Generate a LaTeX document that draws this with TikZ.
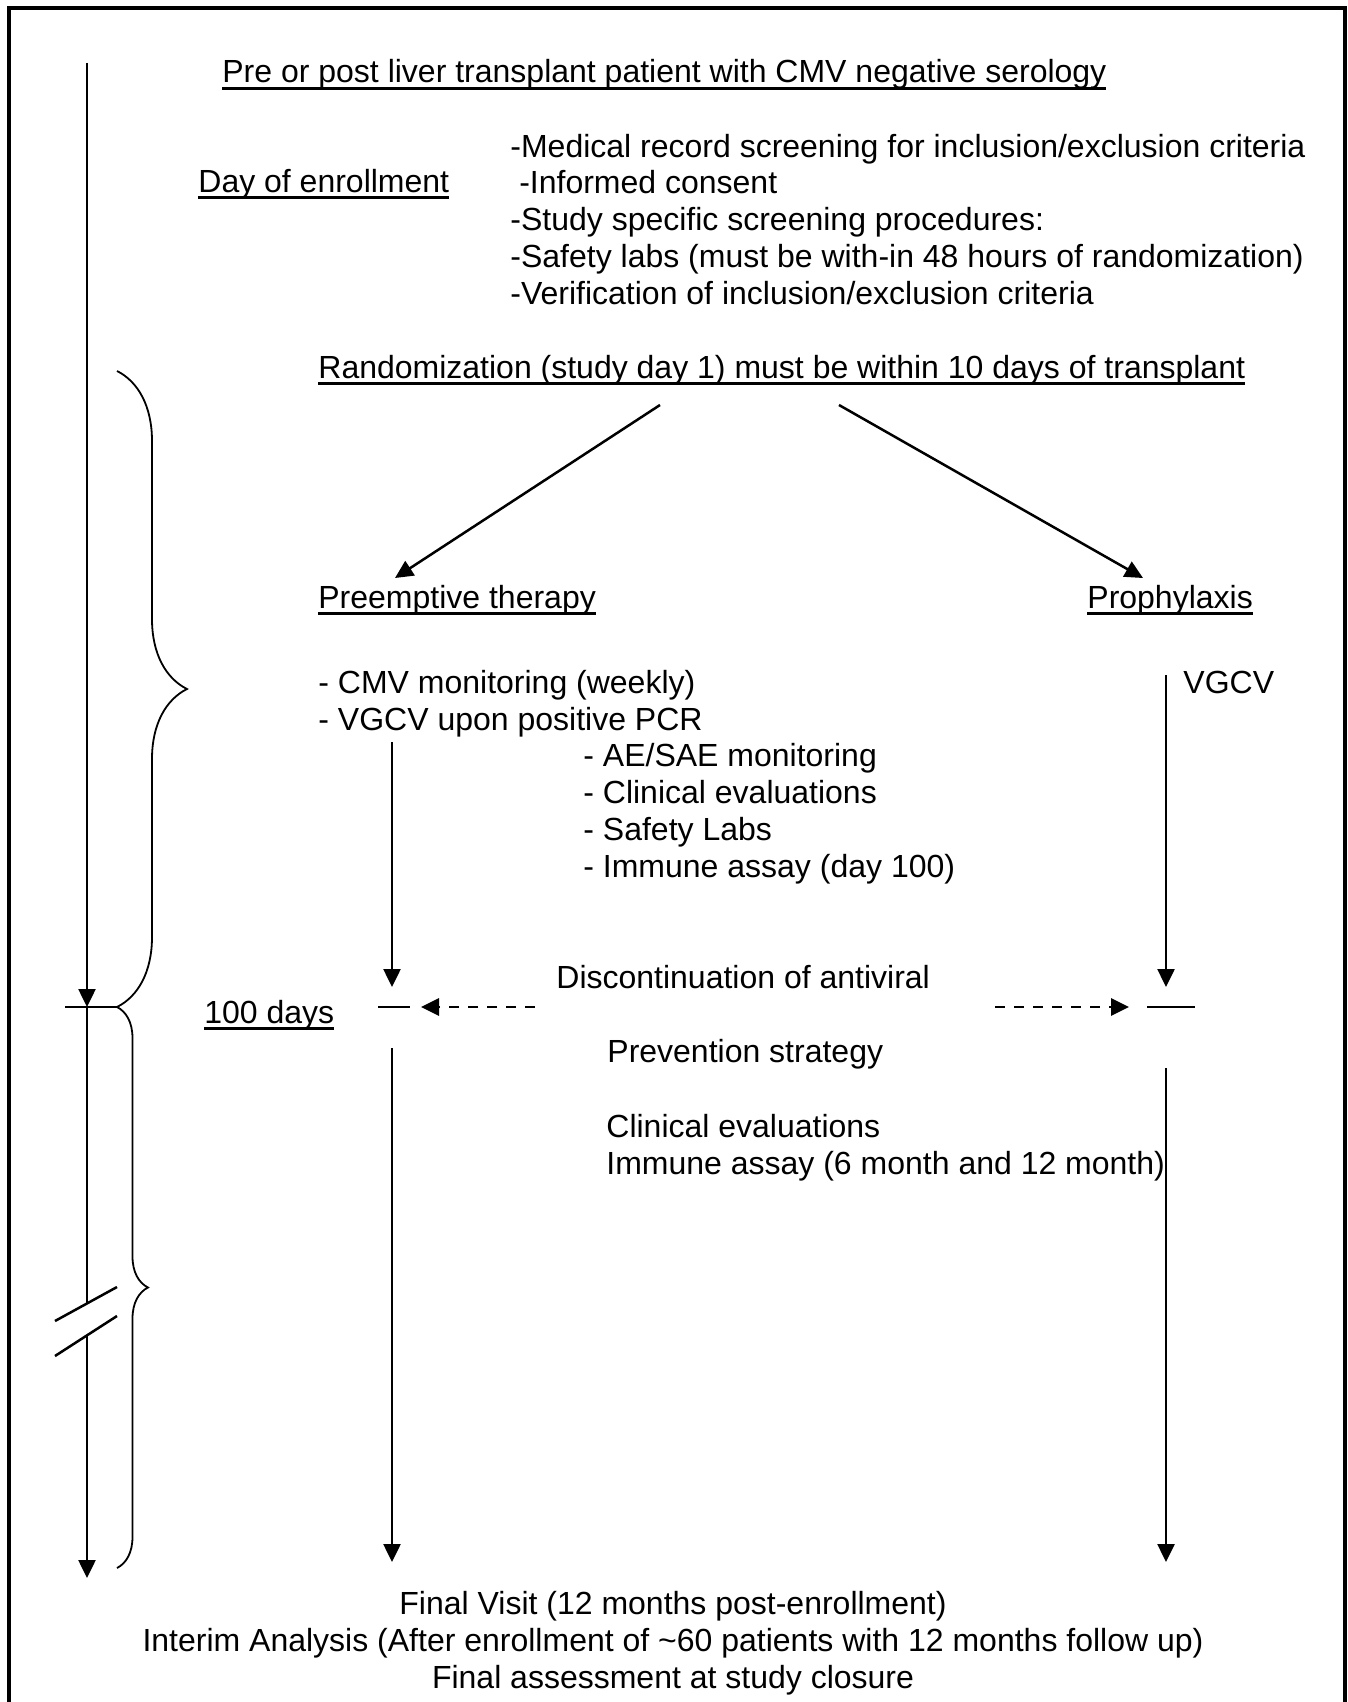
\documentclass[tikz,border=0pt]{standalone}
\usepackage{fontspec}
\setmainfont{Liberation Sans}
\usepackage{tikz}
\usetikzlibrary{arrows.meta, positioning, calc, decorations.pathreplacing}

\newcommand{\undertext}[1]{\setbox0\hbox{#1}\rlap{\vrule height -0.12em depth 0.21em width \wd0}\box0}

\tikzset{
  txt/.style={inner sep=0pt, anchor=base west, align=left,
    font=\fontsize{16pt}{18.35pt}\selectfont},
  ctxt/.style={inner sep=0pt, anchor=base, align=center,
    font=\fontsize{16pt}{18.35pt}\selectfont},
  arrow/.style={-{Triangle[length=9pt, width=8.5pt]}, line width=1.25pt, color=black},
  dasharrow/.style={arrow, line width=1.4pt, dash pattern=on 5pt off 4.5pt},
  line/.style={line width=1.25pt, color=black},
  bracel/.style={line width=0.9pt, decorate},
  frame/.style={line width=1.6pt, color=black}
}

\begin{document}
\begin{tikzpicture}[x=0.5pt, y=-0.5pt]
  \useasboundingbox (0,0) rectangle (1348,1702);
  \draw[frame] (9,1712) |- (1345,8) -- (1345,1712);

  % Nodes (multi-line nodes sit on the baseline of their last line)
  \node[txt] (title) at (222,83) {\undertext{Pre or post liver transplant patient with CMV negative serology}};
  \node[txt] (enroll) at (198,192) {\undertext{Day of enrollment}};
  \node[txt] (screen) at (510,304) {-Medical record screening for inclusion/exclusion criteria\\\ -Informed consent\\-Study specific screening procedures:\\-Safety labs (must be with-in 48 hours of randomization)\\-Verification of inclusion/exclusion criteria};
  \node[txt] (rand) at (318,378) {\undertext{Randomization (study day 1) must be within 10 days of transplant}};
  \node[txt] (pre) at (318,608) {\undertext{Preemptive therapy}};
  \node[txt] (pro) at (1087,608) {\undertext{Prophylaxis}};
  \node[txt] (preList) at (318,730) {- CMV monitoring (weekly)\\- VGCV upon positive PCR};
  \node[txt] (proDrug) at (1183,693) {VGCV};
  \node[txt] (common) at (583,877) {- AE/SAE monitoring\\- Clinical evaluations\\- Safety Labs\\- Immune assay (day 100)};
  \node[txt] (discont) at (556,988) {Discontinuation of antiviral};
  \node[txt] (days) at (204,1023) {\undertext{100 days}};
  \node[txt] (prevent) at (607,1062) {Prevention strategy};
  \node[txt] (followup) at (606,1174) {Clinical evaluations\\Immune assay (6 month and 12 month)};
  \node[ctxt] (final) at (673,1688) {Final Visit (12 months post-enrollment)\\Interim Analysis (After enrollment of \textasciitilde60 patients with 12 months follow up)\\Final assessment at study closure};

  % Timeline
  \coordinate (tlTop) at (87,63);
  \coordinate (tlDay) at (87,1007);
  \coordinate (tlCut) at (87,1304);
  \coordinate (tlRes) at (87,1335);
  \coordinate (tlEnd) at (87,1578);
  \coordinate (tickL) at (65,1007);
  \coordinate (tickR) at (117,1007);
  \coordinate (braceTop) at (117,371);
  \coordinate (braceEnd) at (117,1568);
  \coordinate (cutA1) at (55,1321);
  \coordinate (cutA2) at (117,1287);
  \coordinate (cutB1) at (55,1356);
  \coordinate (cutB2) at (117,1316);

  \draw[arrow] (tlTop) -- (tlDay);
  \draw[line] (tlDay) -- (tlCut);
  \draw[arrow] (tlRes) -- (tlEnd);
  \draw[line] (tickL) -- (tickR);
  \draw[line] (cutA1) -- (cutA2);
  \draw[line] (cutB1) -- (cutB2);
  \draw[bracel, decoration={brace, amplitude=35pt}] (braceTop) -- (tickR);
  \draw[bracel, decoration={brace, amplitude=15.5pt}] (tickR) -- (braceEnd);

  % Randomization split
  \coordinate (splitL) at (660,405);
  \coordinate (splitR) at (839,405);
  \coordinate (preTip) at (395,578);
  \coordinate (proTip) at (1143,578);
  \draw[arrow] (splitL) -- (preTip);
  \draw[arrow] (splitR) -- (proTip);

  % Preemptive branch
  \coordinate (preTop) at (392,742);
  \coordinate (preStop) at (392,987);
  \coordinate (preTickL) at (378,1007);
  \coordinate (preTickR) at (410,1007);
  \coordinate (preRes) at (392,1048);
  \coordinate (preEnd) at (392,1562);
  \draw[arrow] (preTop) -- (preStop);
  \draw[line] (preTickL) -- (preTickR);
  \draw[arrow] (preRes) -- (preEnd);

  % Prophylaxis branch
  \coordinate (proTop) at (1166,675);
  \coordinate (proStop) at (1166,987);
  \coordinate (proTickL) at (1147,1007);
  \coordinate (proTickR) at (1195,1007);
  \coordinate (proRes) at (1166,1068);
  \coordinate (proEnd) at (1166,1562);
  \draw[arrow] (proTop) -- (proStop);
  \draw[line] (proTickL) -- (proTickR);
  \draw[arrow] (proRes) -- (proEnd);

  % Discontinuation
  \coordinate (discL) at (535,1007);
  \coordinate (discLTip) at (421,1007);
  \coordinate (discR) at (995,1007);
  \coordinate (discRTip) at (1129,1007);
  \draw[dasharrow] (discL) -- (discLTip);
  \draw[dasharrow] (discR) -- (discRTip);
\end{tikzpicture}
\end{document}
